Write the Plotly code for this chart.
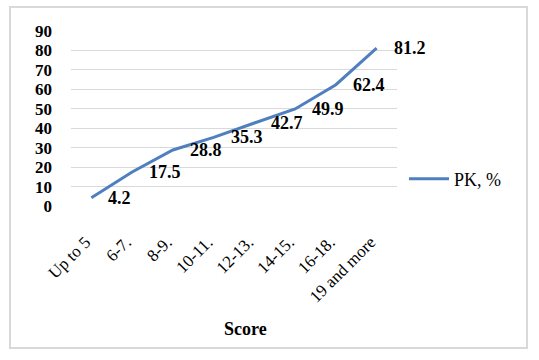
import plotly.graph_objects as go

categories = ["Up to 5", "6-7.", "8-9.", "10-11.", "12-13.", "14-15.", "16-18.", "19 and more"]
pk_values = [4.2, 17.5, 28.8, 35.3, 42.7, 49.9, 62.4, 81.2]
series_name = "PK, %"
y_ticks = [0, 10, 20, 30, 40, 50, 60, 70, 80, 90]

W, H = 539, 360
L, R, T, B = 71, 397, 31, 206
pw, ph = R - L, B - T

def px_x(p):
    return (p - L) / pw

def px_y(p):
    return (B - p) / ph

font_family = "Liberation Serif, Times New Roman, serif"
line_color = "#4F7FBE"

fig = go.Figure()
fig.add_trace(go.Scatter(
    x=categories, y=pk_values, mode="lines", name=series_name,
    line=dict(color=line_color, width=3),
))

for c, v in zip(categories, pk_values):
    fig.add_annotation(
        x=c, y=v, text=f"<b>{v}</b>", showarrow=False,
        xanchor="left", yanchor="middle", xshift=15,
        font=dict(family=font_family, size=18, color="#000000"),
    )

fig.add_annotation(
    x=px_x(245), y=px_y(329), xref="paper", yref="paper",
    text="<b>Score</b>", showarrow=False, xanchor="center", yanchor="middle",
    font=dict(family=font_family, size=18, color="#000000"),
)

fig.add_shape(
    type="rect", xref="paper", yref="paper",
    x0=px_x(10), x1=px_x(527), y0=px_y(348), y1=px_y(7),
    line=dict(color="#D9D9D9", width=2), fillcolor="rgba(0,0,0,0)", layer="below",
)

fig.update_layout(
    width=W, height=H,
    margin=dict(l=L, r=W - R, t=T, b=H - B, autoexpand=False),
    paper_bgcolor="white", plot_bgcolor="white",
    font=dict(family=font_family, color="#000000"),
    showlegend=True,
    legend=dict(
        x=px_x(404), y=px_y(179), xanchor="left", yanchor="middle",
        font=dict(family=font_family, size=18, color="#000000"),
        bgcolor="rgba(0,0,0,0)", itemwidth=40,
    ),
    xaxis=dict(
        type="category", categoryorder="array", categoryarray=categories,
        range=[-0.5, len(categories) - 0.5], automargin=False,
        tickangle=-45, showgrid=False, showline=False, zeroline=False,
        tickfont=dict(family=font_family, size=17, color="#000000"),
        ticklabelstandoff=22, ticklabelshift=-6, ticks="",
    ),
    yaxis=dict(
        range=[0, 90], tickvals=y_ticks, showgrid=True, gridcolor="#D9D9D9",
        gridwidth=1, zeroline=False, showline=False, ticks="", automargin=False,
        tickfont=dict(family=font_family, size=17, color="#000000", weight="bold"),
        ticklabelstandoff=18,
    ),
)

fig.write_html(
    "out.html",
    config={"displayModeBar": False},
    post_script="document.body.style.margin='0';document.body.style.overflow='hidden';",
)
